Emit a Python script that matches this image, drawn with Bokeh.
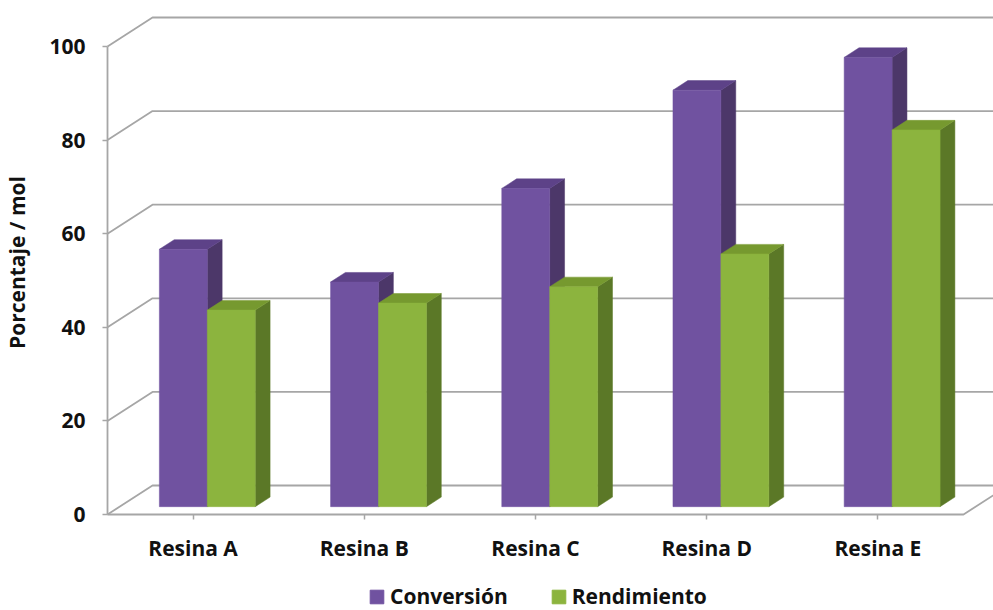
from bokeh.plotting import figure
from bokeh.models import Range1d, FixedTicker, Legend, LegendItem
from bokeh.layouts import column
from bokeh.embed import file_html
from bokeh.resources import INLINE

# ---------------- data ----------------
categorias = ["Resina A", "Resina B", "Resina C", "Resina D", "Resina E"]
conversion = [55, 48, 68, 89, 96]
rendimiento = [42, 43.5, 47, 54, 80.5]
series_names = ["Conversión", "Rendimiento"]
y_ticks = [0, 20, 40, 60, 80, 100]
y_title = "Porcentaje / mol"

# ---------------- style / projection ----------------
PXX = 171.2          # px per category unit
PXY = 4.68           # px per value unit
DX = 45 / PXX        # full floor depth (x offset, data units)
DY = 29 / PXY        # full floor depth (y offset, data units)
F1, F2 = 0.27, 0.60  # bar depth range
BW = 0.28            # bar width
SHIFT = 0.012
GRID = "#a6a6a6"
FONT = "Open Sans"
FS = "21px"
TXT = "#111111"

front_col = ["#7052a0", "#8cb43e"]
side_col = ["#4c3769", "#5b7827"]
top_col = ["#5d4288", "#76992f"]

n = len(categorias)
x_end = 886 / PXX

p = figure(width=993, height=565, output_backend="svg", toolbar_location=None,
           x_range=Range1d(-5 / PXX, x_end), y_range=Range1d(-5 / PXY, 509 / PXY),
           min_border_left=102, min_border_right=0, min_border_top=5, min_border_bottom=46)
p.outline_line_color = None
p.xgrid.visible = False
p.ygrid.visible = False

# gridlines (front axis -> back wall -> right)
gx, gy = [], []
for v in y_ticks:
    gx.append([0, DX, x_end + 1])
    gy.append([v, v + DY, v + DY])
# floor front edge and right edge, front vertical axis
gx.append([0, n, n + DX]); gy.append([0, 0, DY])
gx.append([0, 0]); gy.append([0, y_ticks[-1]])
p.multi_line(gx, gy, line_color=GRID, line_width=1.8)

# bars
series = [conversion, rendimiento]
for s, vals in enumerate(series):
    lefts, rights, bottoms, tops = [], [], [], []
    sx, sy, tx, ty = [], [], [], []
    for i, v in enumerate(vals):
        x0 = i + 0.5 - BW + s * BW + SHIFT
        x1 = x0 + BW
        lefts.append(x0 + F1 * DX); rights.append(x1 + F1 * DX)
        bottoms.append(F1 * DY); tops.append(v + F1 * DY)
        sx.append([x1 + F1 * DX, x1 + F2 * DX, x1 + F2 * DX, x1 + F1 * DX])
        sy.append([F1 * DY, F2 * DY, v + F2 * DY, v + F1 * DY])
        tx.append([x0 + F1 * DX, x1 + F1 * DX, x1 + F2 * DX, x0 + F2 * DX])
        ty.append([v + F1 * DY, v + F1 * DY, v + F2 * DY, v + F2 * DY])
    p.patches(sx, sy, fill_color=side_col[s], line_color=side_col[s], line_width=0.5)
    p.patches(tx, ty, fill_color=top_col[s], line_color=top_col[s], line_width=0.5)
    p.quad(left=lefts, right=rights, bottom=bottoms, top=tops,
           fill_color=front_col[s], line_color=front_col[s], line_width=0.5)

# x axis
xa = p.xaxis[0]
xa.ticker = FixedTicker(ticks=[i + 0.5 for i in range(n)])
xa.major_label_overrides = {i + 0.5: c for i, c in enumerate(categorias)}
xa.axis_line_color = None
xa.major_tick_in = 5
xa.major_tick_out = 0
xa.major_tick_line_color = GRID
xa.major_tick_line_width = 1.5
xa.minor_tick_line_color = None
xa.major_label_standoff = 14
xa.major_label_text_font = FONT
xa.major_label_text_font_style = "bold"
xa.major_label_text_font_size = FS
xa.major_label_text_color = TXT

# y axis
ya = p.yaxis[0]
ya.ticker = FixedTicker(ticks=y_ticks)
ya.axis_line_color = None
ya.major_tick_in = 5
ya.major_tick_out = 0
ya.major_tick_line_color = GRID
ya.major_tick_line_width = 1.5
ya.minor_tick_line_color = None
ya.major_label_standoff = 17
ya.major_label_text_font = FONT
ya.major_label_text_font_style = "bold"
ya.major_label_text_font_size = FS
ya.major_label_text_color = TXT
ya.axis_label = y_title
ya.axis_label_text_font = FONT
ya.axis_label_text_font_style = "bold"
ya.axis_label_text_font_size = FS
ya.axis_label_text_color = TXT
ya.axis_label_standoff = 15

# legend strip below the chart
q = figure(width=993, height=45, output_backend="svg", toolbar_location=None,
           x_range=Range1d(0, 1), y_range=Range1d(0, 1),
           min_border_left=0, min_border_right=0, min_border_top=0, min_border_bottom=0)
q.axis.visible = False
q.xgrid.visible = False
q.ygrid.visible = False
q.outline_line_color = None
items = []
for k in range(2):
    # zero-size proxy glyph, only used to give the legend its swatch colour
    r = q.quad(left=[0], right=[0], bottom=[0], top=[0], fill_color=front_col[k],
               line_color=front_col[k], fill_alpha=1, line_alpha=1)
    items.append(LegendItem(label=series_names[k], renderers=[r]))
legend = Legend(items=items, location=(266, 0), orientation="horizontal",
                glyph_width=17, glyph_height=17, label_standoff=5, spacing=42,
                padding=0, margin=0, border_line_color=None, background_fill_alpha=0,
                label_text_font=FONT, label_text_font_style="bold", label_text_font_size="21px",
                label_text_color=TXT)
q.add_layout(legend)

layout = column(p, q, spacing=0)
open("out.html", "w").write(file_html(layout, INLINE))
